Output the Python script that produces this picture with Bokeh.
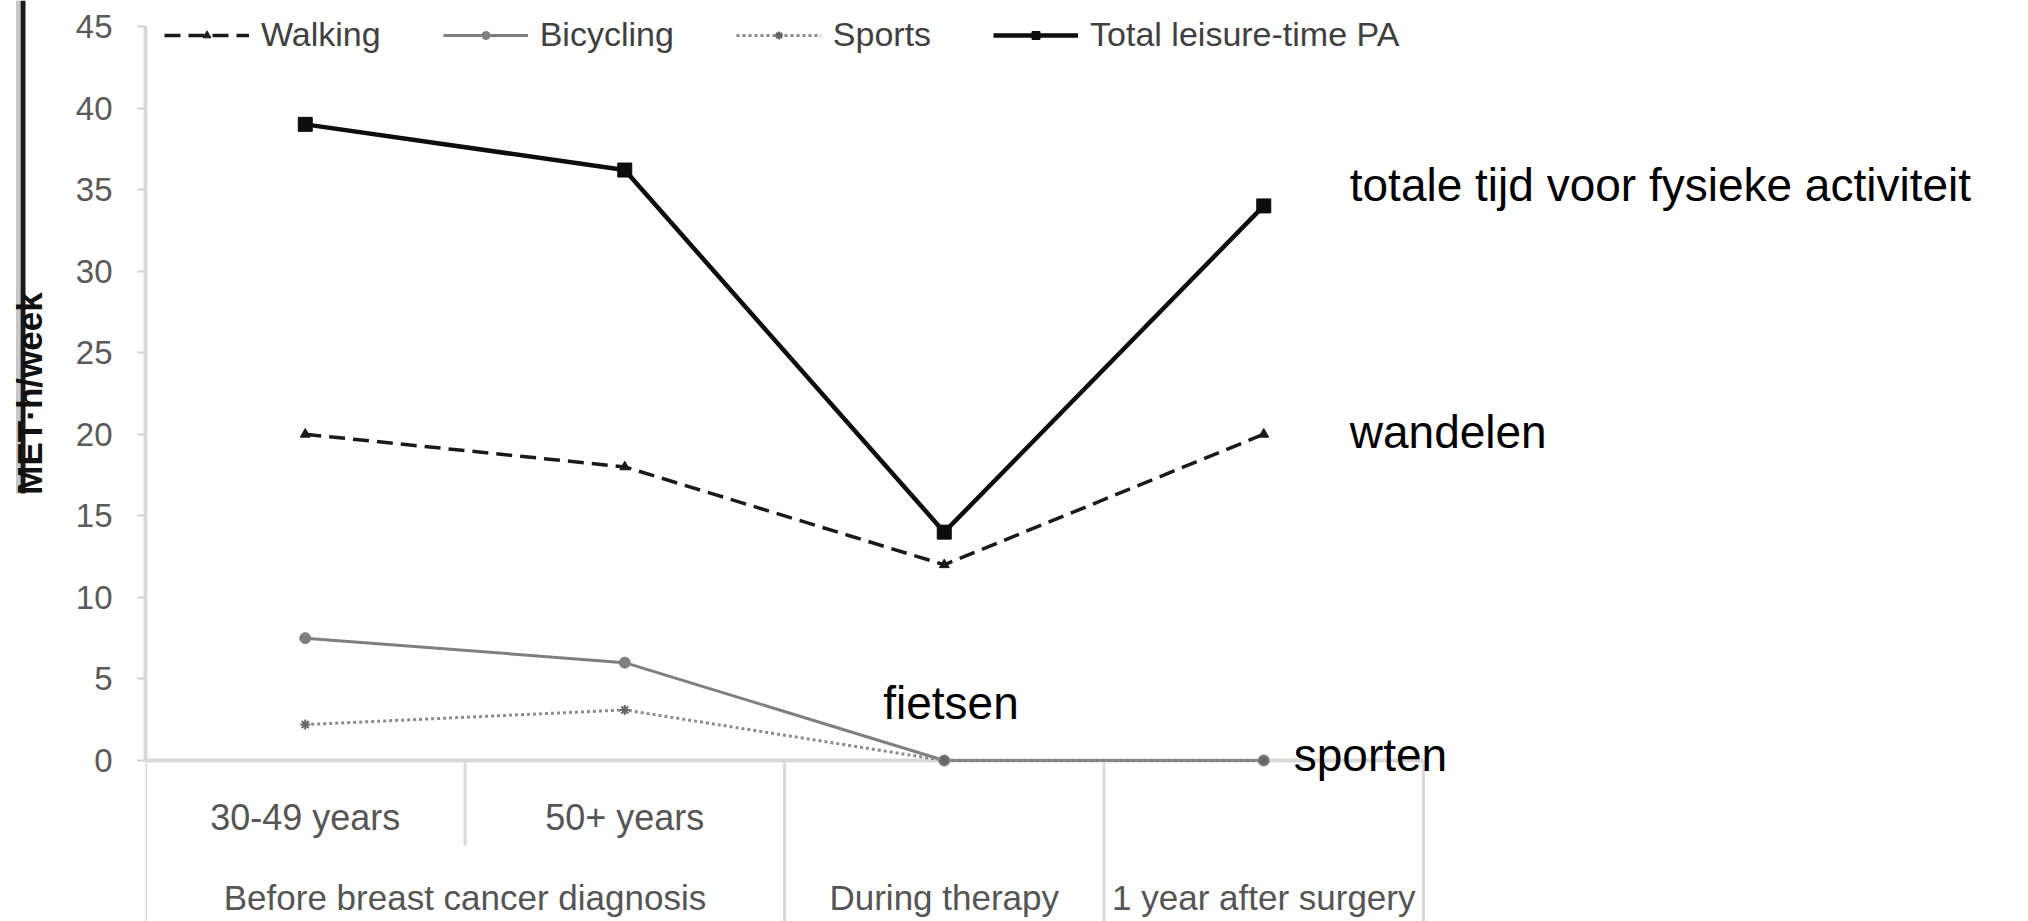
import math
from bokeh.plotting import figure
from bokeh.layouts import row
from bokeh.models import Range1d, FixedTicker, Legend, LegendItem, ColumnDataSource
from bokeh.core.properties import value
from bokeh.embed import file_html
from bokeh.resources import INLINE

# ---------------- data ----------------
subcategories = ["30-49 years", "50+ years", "", ""]
groups = ["Before breast cancer diagnosis", "During therapy", "1 year after surgery"]
group_spans = [2, 1, 1]
series_names = ["Walking", "Bicycling", "Sports", "Total leisure-time PA"]
walking = [20.0, 18.0, 12.0, 20.0]
bicycling = [7.5, 6.0, 0.0, 0.0]
sports = [2.2, 3.1, 0.0, 0.0]
total = [39.0, 36.2, 14.0, 34.0]
y_ticks = [0, 5, 10, 15, 20, 25, 30, 35, 40, 45]
y_axis_title = "MET·h/week"
dutch_labels = ["totale tijd voor fysieke activiteit", "wandelen", "fietsen", "sporten"]

# ---------------- layout constants (pixels) ----------------
W, H = 2028, 921
LEFT_W = 70            # narrow strip holding the axis title
FRAME_LEFT = 145       # page x of the y axis
CAT_PX = 319.5
Y0_PX = 760.0          # pixel row of value 0
YTOP_PX = 26.0         # pixel row of value 45
YMAX = 45
ppu = (Y0_PX - YTOP_PX) / YMAX
y_start = -(H - Y0_PX) / ppu
y_end = YMAX + YTOP_PX / ppu
x_end = (W - FRAME_LEFT) / CAT_PX


def y_at(px):
    return (Y0_PX - px) / ppu


FONT = "Liberation Sans"
yr = Range1d(y_start, y_end)

# ---------------- left strip: axis title ----------------
left = figure(width=LEFT_W, height=H, output_backend="svg", toolbar_location=None,
              x_range=Range1d(0, LEFT_W), y_range=yr, x_axis_location=None,
              y_axis_location=None, min_border=0)
left.outline_line_color = None
left.grid.visible = False
left.segment(x0=[17.5], y0=[y_end], x1=[17.5], y1=[y_at(493)],
             line_color="#c8c8c8", line_width=4)
left.segment(x0=[22.5], y0=[y_end], x1=[22.5], y1=[y_at(493)],
             line_color="#1a1a1a", line_width=5)
left.text(x=[29], y=[YMAX / 2], text=[y_axis_title], angle=math.pi / 2,
          text_align="center", text_baseline="middle", text_font=value(FONT),
          text_font_style="bold", text_font_size="35px", text_color="#111111")

# ---------------- main chart ----------------
p = figure(width=W - LEFT_W, height=H, output_backend="svg", toolbar_location=None,
           x_range=Range1d(0, x_end), y_range=yr,
           x_axis_location=None, min_border_left=FRAME_LEFT - LEFT_W,
           min_border_right=0, min_border_top=0, min_border_bottom=0)
p.outline_line_color = None
p.grid.visible = False
p.background_fill_color = "white"
p.border_fill_color = "white"

ya = p.yaxis[0]
ya.bounds = (0, YMAX)
ya.ticker = FixedTicker(ticks=y_ticks)
ya.axis_line_color = "#d9d9d9"
ya.axis_line_width = 4
ya.major_tick_line_color = "#d0d0d0"
ya.major_tick_line_width = 2
ya.major_tick_out = 8
ya.major_tick_in = 0
ya.minor_tick_line_color = None
ya.major_label_standoff = 25
ya.major_label_text_font = FONT
ya.major_label_text_font_size = "33px"
ya.major_label_text_color = "#5a5a5a"

# category frame lines (Excel-like table below the plot)
n = len(subcategories)
bounds_full = [0]
for s in group_spans:
    bounds_full.append(bounds_full[-1] + s)
inner = []
start = 0
for s in group_spans:
    for k in range(1, s):
        inner.append(start + k)
    start += s
seg = ColumnDataSource(dict(
    x0=bounds_full + inner,
    y0=[0] * (len(bounds_full) + len(inner)),
    x1=bounds_full + inner,
    y1=[y_start] * len(bounds_full) + [y_at(845)] * len(inner),
))
p.segment(x0="x0", y0="y0", x1="x1", y1="y1", source=seg,
          line_color="#d9d9d9", line_width=3)
p.segment(x0=[0], y0=[0], x1=[n], y1=[0], line_color="#d9d9d9", line_width=4)

# category labels
xs = [i + 0.5 for i in range(n)]
sub_src = ColumnDataSource(dict(x=xs, y=[y_at(817)] * n, t=subcategories))
p.text(x="x", y="y", text="t", source=sub_src, text_align="center",
       text_baseline="alphabetic", text_font=value(FONT), text_font_size="36px",
       text_color="#555555")
gx = []
st = 0
for s in group_spans:
    gx.append(st + s / 2)
    st += s
grp_src = ColumnDataSource(dict(x=gx, y=[y_at(897)] * len(groups), t=groups))
p.text(x="x", y="y", text="t", source=grp_src, text_align="center",
       text_baseline="alphabetic", text_font=value(FONT), text_font_size="35px",
       text_color="#555555")

# series
r_bl = p.line(xs, bicycling, line_color="#7f7f7f", line_width=3)
r_bm = p.scatter(xs, bicycling, marker="circle", size=11, fill_color="#7f7f7f",
                 line_color="#7f7f7f")
r_sl = p.line(xs, sports, line_color="#8c8c8c", line_width=3, line_dash="3 3")
r_sm = p.scatter(xs, sports, marker="asterisk", size=10, line_color="#666666",
                 line_width=2)
r_wl = p.line(xs, walking, line_color="#1a1a1a", line_width=3.5, line_dash="16 8")
r_wm = p.scatter(xs, walking, marker="triangle", size=10, fill_color="#1a1a1a",
                 line_color="#1a1a1a")
r_tl = p.line(xs, total, line_color="#0d0d0d", line_width=4.5)
r_tm = p.scatter(xs, total, marker="square", size=14, fill_color="#0d0d0d",
                 line_color="#0d0d0d")

legend = Legend(items=[
    LegendItem(label=series_names[0], renderers=[r_wl, r_wm]),
    LegendItem(label=series_names[1], renderers=[r_bl, r_bm]),
    LegendItem(label=series_names[2], renderers=[r_sl, r_sm]),
    LegendItem(label=series_names[3], renderers=[r_tl, r_tm]),
], orientation="horizontal", location=(19, H - 54), padding=8, margin=0,
    spacing=62, glyph_width=85, label_standoff=12,
    label_text_font=FONT, label_text_font_size="34px", label_text_color="#404040",
    border_line_color=None, background_fill_alpha=0)
p.add_layout(legend, "center")

# Dutch annotations placed relative to their series' points
ann_src = ColumnDataSource(dict(
    x=[xs[3], xs[3], xs[2], xs[3]],
    y=[total[3], walking[3], bicycling[2], sports[3]],
    t=dutch_labels,
    dx=[86, 86, -61, 30],
    dy=[-21, -2, -58, -6],
))
p.text(x="x", y="y", text="t", x_offset="dx", y_offset="dy", source=ann_src,
       text_align="left", text_baseline="alphabetic", text_font=value(FONT),
       text_font_size="46px", text_color="black")

layout = row(left, p, spacing=0)
open("out.html", "w").write(file_html(layout, INLINE))
